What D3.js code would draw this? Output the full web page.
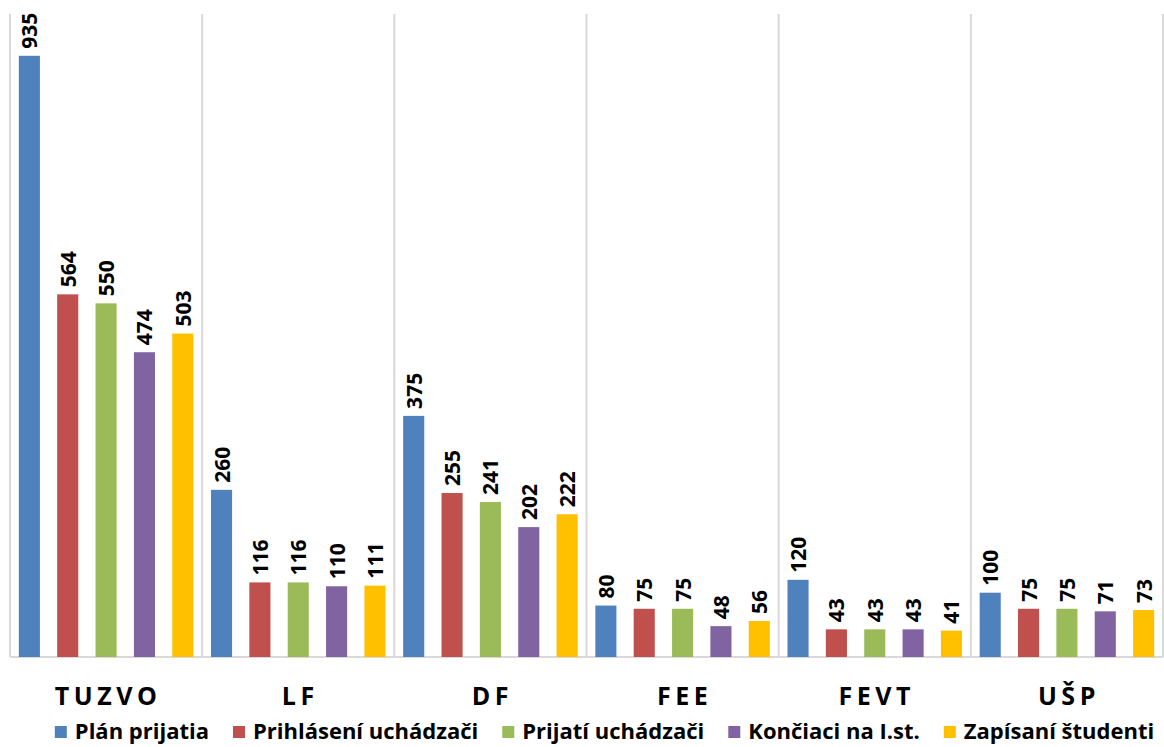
<!DOCTYPE html>
<html><head><meta charset="utf-8">
<script src="https://cdn.jsdelivr.net/npm/d3@7"></script>
<style>
body{margin:0;background:#fff;}
svg{display:block;font-family:"Open Sans",sans-serif;}
</style></head>
<body><svg id="c" width="1164" height="747"></svg>
<script>
const categories = ["TUZVO","LF","DF","FEE","FEVT","UŠP"];
const seriesNames = ["Plán prijatia","Prihlásení uchádzači","Prijatí uchádzači","Končiaci na I.st.","Zapísaní študenti"];
const planPrijatia = [935,260,375,80,120,100];
const prihlaseni = [564,116,255,75,43,75];
const prijati = [550,116,241,75,43,75];
const konciaci = [474,110,202,48,43,71];
const zapisani = [503,111,222,56,41,73];
const colors = ["#4F81BD","#C0504D","#9BBB59","#8064A2","#FFC000"];

const seriesValues = [planPrijatia, prihlaseni, prijati, konciaci, zapisani];
const svg = d3.select("#c");
const mLeft = 10, mRight = 1163, mTop = 14, mBottom = 657;

const x0 = d3.scaleBand().domain(categories).range([mLeft, mRight]).padding(0);
const x1 = d3.scaleBand().domain(seriesNames).range([0, x0.bandwidth()]).paddingInner(0.45).paddingOuter(0.23);
const y = d3.scaleLinear().domain([0, 1000]).range([mBottom, mTop]);

// vertical gridlines at category boundaries
const bounds = categories.map(c => x0(c)).concat([mRight]);
svg.append("g").selectAll("line").data(bounds).join("line")
  .attr("x1", d => d).attr("x2", d => d)
  .attr("y1", mTop).attr("y2", mBottom)
  .attr("stroke", "#D9D9D9").attr("stroke-width", 2);
// baseline
svg.append("line").attr("x1", mLeft).attr("x2", mRight).attr("y1", mBottom).attr("y2", mBottom)
  .attr("stroke", "#D9D9D9").attr("stroke-width", 2);

const data = [];
categories.forEach((c, i) => seriesNames.forEach((s, j) => data.push({c, s, j, v: seriesValues[j][i]})));

const g = svg.append("g");
g.selectAll("rect").data(data).join("rect")
  .attr("x", d => x0(d.c) + x1(d.s))
  .attr("y", d => y(d.v))
  .attr("width", x1.bandwidth())
  .attr("height", d => mBottom - y(d.v))
  .attr("fill", d => colors[d.j]);

g.selectAll("text.lbl").data(data).join("text").attr("class","lbl")
  .attr("transform", d => `translate(${x0(d.c) + x1(d.s) + x1.bandwidth()/2 + 8},${y(d.v) - 7}) rotate(-90)`)
  .attr("text-anchor", "start")
  .attr("font-weight", "bold").attr("font-size", 21).attr("fill", "#000")
  .text(d => d.v);

// category labels
svg.append("g").selectAll("text").data(categories).join("text")
  .attr("x", d => x0(d) + x0.bandwidth()/2 + 2)
  .attr("y", 705)
  .attr("text-anchor", "middle")
  .attr("font-weight", "bold").attr("font-size", 25)
  .attr("letter-spacing", "4.5px")
  .attr("fill", "#000")
  .text(d => d);

// legend
const lg = svg.append("g").attr("font-weight", "bold").attr("font-size", 22);
const items = seriesNames.map((s, j) => {
  const it = lg.append("g");
  it.append("rect").attr("width", 12).attr("height", 12).attr("y", -13).attr("fill", colors[j]);
  const t = it.append("text").attr("x", 20).attr("y", 0).text(s).attr("fill","#000");
  return {it, w: 20 + t.node().getComputedTextLength()};
});
const gap = 24;
const total = d3.sum(items, d => d.w) + gap * (items.length - 1);
let cx = 604.5 - total / 2;
items.forEach(d => { d.it.attr("transform", `translate(${cx},739)`); cx += d.w + gap; });
</script></body></html>
